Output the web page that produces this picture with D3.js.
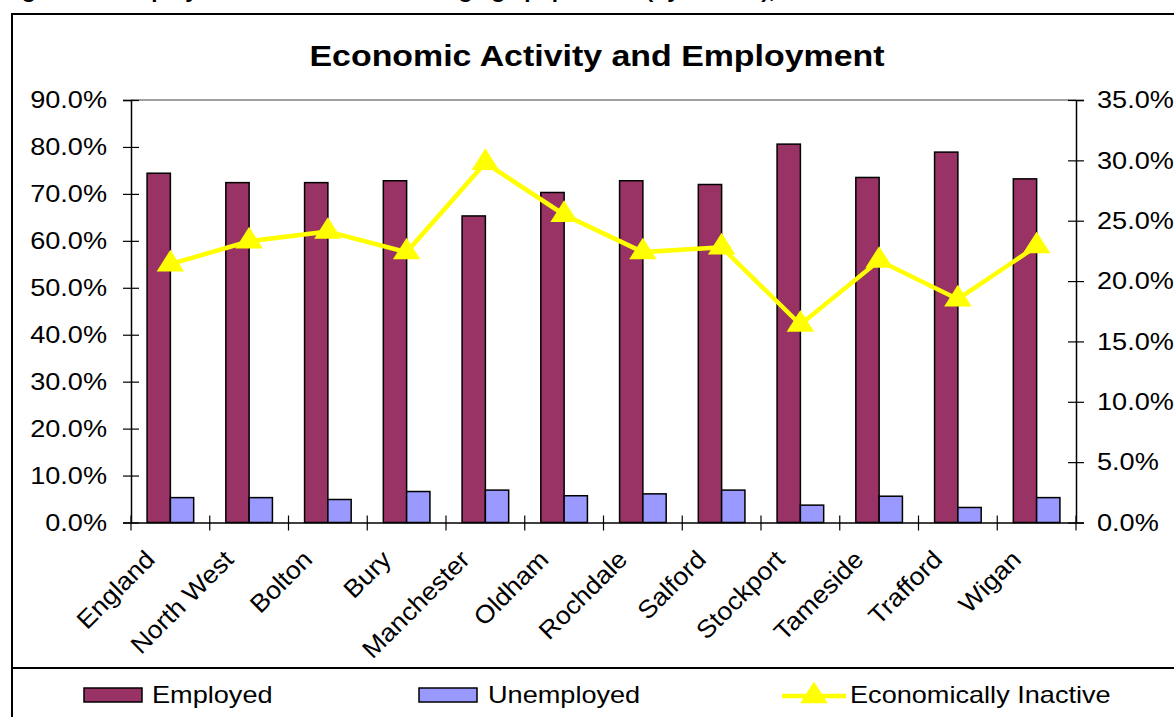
<!DOCTYPE html>
<html><head><meta charset="utf-8">
<script src="https://cdn.jsdelivr.net/npm/d3@7"></script>
<style>html,body{margin:0;padding:0;background:#fff;overflow:hidden}svg{display:block;font-family:"Liberation Sans",Arial,sans-serif}</style>
</head><body>
<svg id="c" width="1174" height="717"></svg>
<script>
const categories = ["England","North West","Bolton","Bury","Manchester","Oldham","Rochdale","Salford","Stockport","Tameside","Trafford","Wigan"];
const employed   = [74.4, 72.4, 72.4, 72.8, 65.3, 70.3, 72.8, 72.0, 80.6, 73.5, 78.9, 73.2];
const unemployed = [5.3, 5.3, 4.9, 6.6, 6.9, 5.7, 6.1, 6.9, 3.7, 5.6, 3.2, 5.3];
const inactive   = [21.4, 23.3, 24.1, 22.4, 29.8, 25.5, 22.4, 22.8, 16.4, 21.7, 18.5, 22.9];
const leftTicks  = [0,10,20,30,40,50,60,70,80,90];
const rightTicks = [0,5,10,15,20,25,30,35];
const seriesNames = ["Employed","Unemployed","Economically Inactive"];
const colors = {Employed:"#993366", Unemployed:"#9999FF", "Economically Inactive":"#FFFF00"};
const figureCaption = "Figure 10: Employment rates of the working age population (by district), 2001";

const SX = 1.13; // horizontal stretch of the original picture
const svg = d3.select("#c");
const L = 131, R = 1076, T = 100, B = 522.5;

// cut-off caption at very top
svg.append("text").attr("transform", `translate(2,-2) scale(${SX},1)`)
  .attr("font-size", 20).attr("font-weight", "bold").text(figureCaption);

// outer chart border
svg.append("rect").attr("x", 12).attr("y", 14).attr("width", 1200).attr("height", 720)
  .attr("fill", "#fff").attr("stroke", "#000").attr("stroke-width", 2);
// legend box
svg.append("rect").attr("x", 12).attr("y", 668).attr("width", 1200).attr("height", 80)
  .attr("fill", "none").attr("stroke", "#000").attr("stroke-width", 2);

// title
svg.append("text").attr("transform", `translate(597,66) scale(${SX},1)`)
  .attr("text-anchor", "middle").attr("font-size", 30).attr("font-weight", "bold")
  .text("Economic Activity and Employment");

const x = d3.scaleBand().domain(categories).range([L, R]).padding(0);
const xs = d3.scaleBand().domain(["Employed","Unemployed"]).range([0, x.bandwidth()]).paddingInner(0).paddingOuter(0.69);
const yL = d3.scaleLinear().domain([0, 90]).range([B, T]);
const yR = d3.scaleLinear().domain([0, 35]).range([B, T]);

// plot top border
svg.append("line").attr("x1", L).attr("x2", R).attr("y1", T).attr("y2", T).attr("stroke", "#808080").attr("stroke-width", 1.5);

// bars
const g = svg.append("g");
categories.forEach((c, i) => {
  [["Employed", employed[i]], ["Unemployed", unemployed[i]]].forEach(([s, v]) => {
    g.append("rect").attr("x", x(c) + xs(s)).attr("width", xs.bandwidth())
      .attr("y", yL(v)).attr("height", B - yL(v))
      .attr("fill", colors[s]).attr("stroke", "#000").attr("stroke-width", 1.5);
  });
});

// left axis
const ax = svg.append("g").attr("transform", `translate(${L},0)`)
  .call(d3.axisLeft(yL).tickValues(leftTicks).tickSize(8).tickFormat(d => d.toFixed(1) + "%"));
ax.select(".domain").attr("stroke", "#000").attr("stroke-width", 1.5);
ax.selectAll(".tick line").attr("x1", 8).attr("stroke", "#000").attr("stroke-width", 1.2);
ax.selectAll(".tick text").attr("x", 0).attr("transform", `translate(-24,0) scale(${SX},1)`)
  .attr("font-size", 24).attr("font-family", "Liberation Sans, Arial, sans-serif").attr("fill", "#000");

// right axis
const ar = svg.append("g").attr("transform", `translate(${R},0)`)
  .call(d3.axisRight(yR).tickValues(rightTicks).tickSize(8).tickFormat(d => d.toFixed(1) + "%"));
ar.select(".domain").attr("stroke", "#000").attr("stroke-width", 1.5);
ar.selectAll(".tick line").attr("x1", -8).attr("stroke", "#000").attr("stroke-width", 1.2);
ar.selectAll(".tick text").attr("x", 0).attr("transform", `translate(21,0) scale(${SX},1)`)
  .attr("font-size", 24).attr("font-family", "Liberation Sans, Arial, sans-serif").attr("fill", "#000");

// bottom axis
const ab = svg.append("g").attr("transform", `translate(0,${B})`)
  .call(d3.axisBottom(x).tickSize(0).tickFormat(""));
ab.select(".domain").attr("stroke", "#000").attr("stroke-width", 1.5);
const edges = categories.map(c => x(c)).concat([R]);
ab.selectAll(".edge").data(edges).enter().append("line")
  .attr("x1", d => d).attr("x2", d => d).attr("y1", -7).attr("y2", 8)
  .attr("stroke", "#000").attr("stroke-width", 1.2);
svg.append("g").selectAll("text").data(categories).enter().append("text")
  .attr("transform", d => `translate(${x(d) + x.bandwidth() / 2 - 14},561) rotate(-45) scale(1.07,1)`)
  .attr("text-anchor", "end").attr("font-size", 25).text(d => d);

// line series
const tri = d3.symbol().type(d3.symbolTriangle).size(270);
const line = d3.line().x((d, i) => x(categories[i]) + x.bandwidth() / 2).y(d => yR(d));
svg.append("path").datum(inactive).attr("d", line).attr("fill", "none")
  .attr("stroke", colors["Economically Inactive"]).attr("stroke-width", 4.5);
svg.append("g").selectAll("path").data(inactive).enter().append("path")
  .attr("d", tri).attr("fill", colors["Economically Inactive"])
  .attr("transform", (d, i) => `translate(${x(categories[i]) + x.bandwidth() / 2},${yR(d)}) scale(1.1,1)`);

// legend
const lg = svg.append("g");
[[84, 152], [419, 488]].forEach(([sx, tx], k) => {
  lg.append("rect").attr("x", sx).attr("y", 688).attr("width", 58).attr("height", 14)
    .attr("fill", colors[seriesNames[k]]).attr("stroke", "#000").attr("stroke-width", 1.5);
  lg.append("text").attr("transform", `translate(${tx},703) scale(${SX},1)`)
    .attr("font-size", 24).text(seriesNames[k]);
});
lg.append("line").attr("x1", 782).attr("x2", 846).attr("y1", 696).attr("y2", 696)
  .attr("stroke", colors["Economically Inactive"]).attr("stroke-width", 4.5);
lg.append("path").attr("d", tri).attr("fill", colors["Economically Inactive"])
  .attr("transform", "translate(814,696) scale(1.1,1)");
lg.append("text").attr("transform", `translate(850,703) scale(${SX},1)`)
  .attr("font-size", 24).text(seriesNames[2]);
</script>
</body></html>
